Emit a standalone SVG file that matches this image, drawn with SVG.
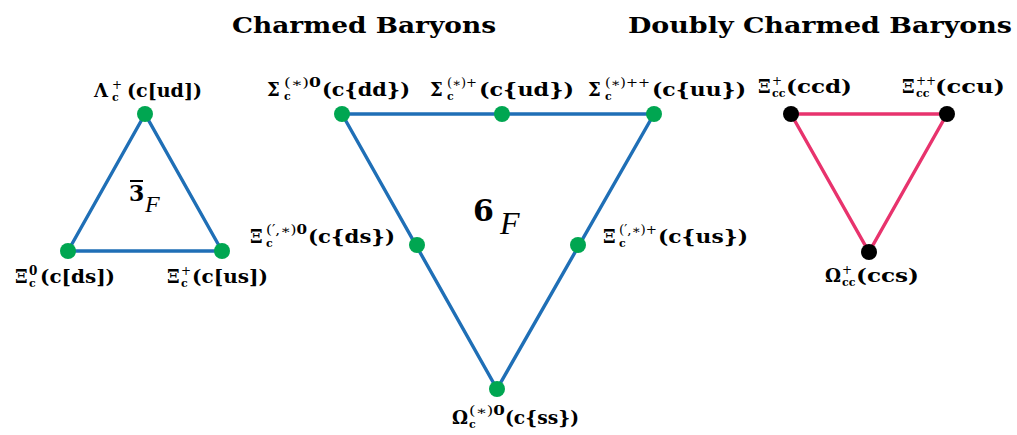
<svg xmlns="http://www.w3.org/2000/svg" width="1017" height="435" viewBox="0 0 1017 435">
<style>
.bg{fill:#fff}
.eb{stroke:#1f6fb6;stroke-width:3.4;fill:none;stroke-linecap:round}
.ep{stroke:#e8336d;stroke-width:3.4;fill:none;stroke-linecap:round}
.ng{fill:#00a651}
.nk{fill:#000}
.bar{stroke:#000;stroke-width:2}
text{font-family:"DejaVu Serif","Liberation Serif",serif;fill:#000}
.lbl{font-size:18px;font-weight:bold}
.sub{font-size:11px;font-weight:bold}
.sup{font-size:12px;font-weight:normal}
.b{font-weight:bold}
.title{font-size:22px;font-weight:bold}
.it{font-family:"Liberation Serif",serif;font-style:italic;font-weight:normal}
</style>
<rect class="bg" x="0" y="0" width="1017" height="435"/>
<g id="titles">
<text class="title" x="232" y="33" textLength="264" lengthAdjust="spacingAndGlyphs">Charmed Baryons</text>
<text class="title" x="628" y="33" textLength="384" lengthAdjust="spacingAndGlyphs">Doubly Charmed Baryons</text>
</g>
<g id="connectors">
<path class="eb" d="M145 114 L68 251 L222 251 Z"/>
<path class="eb" d="M342 114 L654 114 L497 389 Z"/>
<path class="ep" d="M791 114 L947 114 L869 252 Z"/>
</g>
<g id="multiplet-labels">
<line class="bar" x1="130" y1="181" x2="143" y2="181"/>
<text x="129" y="201" style="font-size:22px;font-weight:bold">3</text>
<text class="it" x="145" y="212" style="font-size:24px">F</text>
<text x="473" y="221" style="font-size:30px;font-weight:bold">6</text>
<text class="it" x="500" y="234" style="font-size:32px">F</text>
</g>
<g id="lambda_c">
<circle class="ng" cx="145" cy="114" r="8"/>
<text class="lbl"><tspan x="94" y="97">Λ</tspan><tspan class="sub" x="112" y="101">c</tspan><tspan class="sup" x="112" y="89">+</tspan><tspan x="127" y="97" textLength="75" lengthAdjust="spacingAndGlyphs">(c[ud])</tspan></text>
</g>
<g id="xi_c0">
<circle class="ng" cx="68" cy="251" r="8"/>
<text class="lbl"><tspan x="15" y="283">Ξ</tspan><tspan class="sub" x="29" y="287">c</tspan><tspan class="sup b" x="29" y="275">0</tspan><tspan x="40" y="283" textLength="75" lengthAdjust="spacingAndGlyphs">(c[ds])</tspan></text>
</g>
<g id="xi_cp">
<circle class="ng" cx="222" cy="251" r="8"/>
<text class="lbl"><tspan x="167" y="283">Ξ</tspan><tspan class="sub" x="181" y="287">c</tspan><tspan class="sup" x="181" y="275">+</tspan><tspan x="192" y="283" textLength="76" lengthAdjust="spacingAndGlyphs">(c[us])</tspan></text>
</g>
<g id="sigma_c0">
<circle class="ng" cx="342" cy="114" r="8"/>
<text class="lbl"><tspan x="267" y="96">Σ</tspan><tspan class="sub" x="284" y="100">c</tspan><tspan class="sup" x="284" y="87" textLength="37" lengthAdjust="spacingAndGlyphs">(∗)<tspan class="b">0</tspan></tspan><tspan x="322" y="96" textLength="88" lengthAdjust="spacingAndGlyphs">(c{dd})</tspan></text>
</g>
<g id="sigma_cp">
<circle class="ng" cx="502" cy="114" r="8"/>
<text class="lbl"><tspan x="430" y="96">Σ</tspan><tspan class="sub" x="447" y="100">c</tspan><tspan class="sup" x="447" y="87" textLength="30" lengthAdjust="spacingAndGlyphs">(∗)+</tspan><tspan x="479" y="96" textLength="95" lengthAdjust="spacingAndGlyphs">(c{ud})</tspan></text>
</g>
<g id="sigma_cpp">
<circle class="ng" cx="654" cy="114" r="8"/>
<text class="lbl"><tspan x="588" y="96">Σ</tspan><tspan class="sub" x="605" y="100">c</tspan><tspan class="sup" x="605" y="87" textLength="45" lengthAdjust="spacingAndGlyphs">(∗)++</tspan><tspan x="652" y="96" textLength="94" lengthAdjust="spacingAndGlyphs">(c{uu})</tspan></text>
</g>
<g id="xi_c0_prime">
<circle class="ng" cx="417" cy="245" r="8"/>
<text class="lbl"><tspan x="250" y="243">Ξ</tspan><tspan class="sub" x="266" y="247">c</tspan><tspan class="sup" x="266" y="234" textLength="41" lengthAdjust="spacingAndGlyphs">(′,∗)<tspan class="b">0</tspan></tspan><tspan x="308" y="243" textLength="87" lengthAdjust="spacingAndGlyphs">(c{ds})</tspan></text>
</g>
<g id="xi_cp_prime">
<circle class="ng" cx="578" cy="245" r="8"/>
<text class="lbl"><tspan x="603" y="243">Ξ</tspan><tspan class="sub" x="619" y="247">c</tspan><tspan class="sup" x="619" y="234" textLength="38" lengthAdjust="spacingAndGlyphs">(′,∗)+</tspan><tspan x="658" y="243" textLength="90" lengthAdjust="spacingAndGlyphs">(c{us})</tspan></text>
</g>
<g id="omega_c0">
<circle class="ng" cx="497" cy="389" r="8"/>
<text class="lbl"><tspan x="452" y="424">Ω</tspan><tspan class="sub" x="469" y="428">c</tspan><tspan class="sup" x="469" y="415" textLength="36" lengthAdjust="spacingAndGlyphs">(∗)<tspan class="b">0</tspan></tspan><tspan x="505" y="424" textLength="74" lengthAdjust="spacingAndGlyphs">(c{ss})</tspan></text>
</g>
<g id="xi_ccp">
<circle class="nk" cx="791" cy="114" r="8"/>
<text class="lbl"><tspan x="758" y="93">Ξ</tspan><tspan class="sub" x="772" y="97">cc</tspan><tspan class="sup" x="772" y="85">+</tspan><tspan x="786" y="93" textLength="66" lengthAdjust="spacingAndGlyphs">(ccd)</tspan></text>
</g>
<g id="xi_ccpp">
<circle class="nk" cx="947" cy="114" r="8"/>
<text class="lbl"><tspan x="902" y="93">Ξ</tspan><tspan class="sub" x="916" y="97">cc</tspan><tspan class="sup" x="916" y="85">++</tspan><tspan x="935" y="93" textLength="70" lengthAdjust="spacingAndGlyphs">(ccu)</tspan></text>
</g>
<g id="omega_ccp">
<circle class="nk" cx="869" cy="252" r="8"/>
<text class="lbl"><tspan x="825" y="282">Ω</tspan><tspan class="sub" x="842" y="286">cc</tspan><tspan class="sup" x="842" y="274">+</tspan><tspan x="856" y="282" textLength="63" lengthAdjust="spacingAndGlyphs">(ccs)</tspan></text>
</g>
</svg>
